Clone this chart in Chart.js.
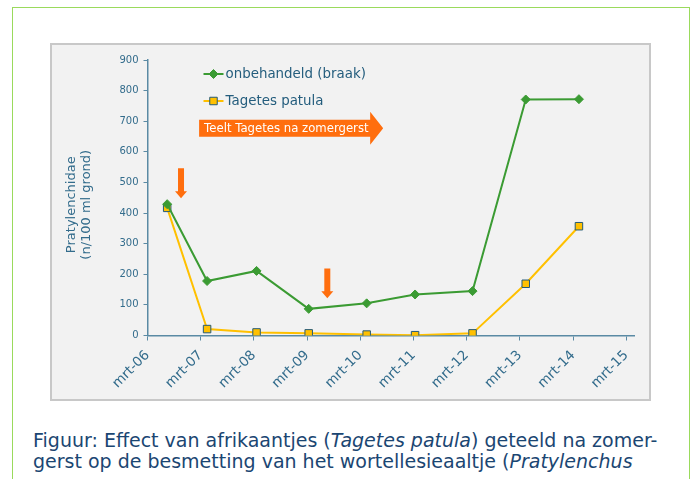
<!DOCTYPE html>
<html>
<head>
<meta charset="utf-8">
<script src="https://cdn.jsdelivr.net/npm/chart.js@4.4.1/dist/chart.umd.min.js"></script>
<style>
  html, body { margin: 0; padding: 0; background: #fff; }
  body { width: 694px; height: 479px; position: relative; overflow: hidden; font-family: "DejaVu Sans", sans-serif; }
  #frame { position: absolute; left: 12px; top: 7px; width: 676px; height: 520px; border: 1.5px solid #9ada5c; }
  #plotBox { position: absolute; left: 50px; top: 43px; width: 601px; height: 358px; box-sizing: border-box;
             background: #f2f2f2; border: 2px solid #c8c8c8; }
  #chart { position: absolute; left: 50px; top: 43px; }
  #caption { position: absolute; left: 33px; top: 430px; width: 655px; color: #1b4672;
             font-size: 19px; line-height: 20.5px; white-space: nowrap; }
</style>
</head>
<body>
<div id="frame"></div>
<div id="plotBox"></div>
<canvas id="chart" width="601" height="358"></canvas>
<div id="caption">Figuur: Effect van afrikaantjes (<i>Tagetes patula</i>) geteeld na zomer-<br>gerst op de besmetting van het wortellesieaaltje (<i>Pratylenchus</i></div>
<script>
// x = years after mrt-06
const xLabels = ["mrt-06", "mrt-07", "mrt-08", "mrt-09", "mrt-10", "mrt-11", "mrt-12", "mrt-13", "mrt-14", "mrt-15"];
const sampleTimes = [0.37, 1.12, 2.05, 3.03, 4.12, 5.03, 6.11, 7.11, 8.11];
const untreated = [429, 178, 211, 87, 105, 134, 145, 771, 772];
const tagetes = [417, 21, 10, 7, 3, 1, 7, 169, 357];

const seriesNames = ["onbehandeld (braak)", "Tagetes patula"];
const yTitle = ["Pratylenchidae", "(n/100 ml grond)"];

// annotations in data coordinates
const downArrows = [
  { x: 0.63, from: 546, to: 448 },
  { x: 3.38, from: 219, to: 122 }
];
const cropArrow = { from: 0.97, to: 4.43, y: 677, text: "Teelt Tagetes na zomergerst" };

const axisColor = "#5a8aa4";
const tickColor = "#336c8c";
const green = "#3b9b33";
const yellow = "#ffc000";
const orange = "#ff6e0e";

const toPoints = vals => vals.map((v, i) => ({ x: sampleTimes[i], y: v }));

const extras = {
  id: "extras",
  afterDraw(chart) {
    const ctx = chart.ctx;
    const xs = chart.scales.x, ys = chart.scales.y;
    const area = chart.chartArea;
    ctx.save();

    // y axis title
    ctx.fillStyle = tickColor;
    ctx.font = "13px 'DejaVu Sans'";
    ctx.textAlign = "center";
    ctx.textBaseline = "middle";
    const cy = (area.top + area.bottom) / 2 + 7;
    yTitle.forEach((t, i) => {
      ctx.save();
      ctx.translate(21.7 + i * 15, cy);
      ctx.rotate(-Math.PI / 2);
      ctx.fillText(t, 0, 0);
      ctx.restore();
    });

    // legend
    const lx = area.left + 56, ly = area.top + 14;
    chart.data.datasets.forEach((ds, i) => {
      const y = ly + i * 27;
      ctx.strokeStyle = ds.borderColor;
      ctx.lineWidth = 2;
      ctx.beginPath();
      ctx.moveTo(lx, y);
      ctx.lineTo(lx + 20, y);
      ctx.stroke();
      ctx.fillStyle = ds.pointBackgroundColor;
      ctx.strokeStyle = ds.pointBorderColor;
      ctx.lineWidth = ds.pointBorderWidth;
      Chart.helpers.drawPoint(ctx, {
        pointStyle: ds.pointStyle, radius: ds.pointRadius, borderWidth: ds.pointBorderWidth, rotation: 0
      }, lx + 10, y);
      ctx.fillStyle = "#245d7d";
      ctx.font = "13.4px 'DejaVu Sans'";
      ctx.textAlign = "left";
      ctx.textBaseline = "middle";
      ctx.fillText(ds.label, lx + 22, y + 1);
    });

    // down arrows
    ctx.fillStyle = orange;
    downArrows.forEach(a => {
      const x = xs.getPixelForValue(a.x);
      const y0 = ys.getPixelForValue(a.from), y1 = ys.getPixelForValue(a.to);
      ctx.beginPath();
      ctx.moveTo(x - 3, y0);
      ctx.lineTo(x + 3, y0);
      ctx.lineTo(x + 3, y1 - 7);
      ctx.lineTo(x + 6, y1 - 7);
      ctx.lineTo(x, y1);
      ctx.lineTo(x - 6, y1 - 7);
      ctx.lineTo(x - 3, y1 - 7);
      ctx.closePath();
      ctx.fill();
    });

    // crop arrow
    const ax0 = xs.getPixelForValue(cropArrow.from), ax1 = xs.getPixelForValue(cropArrow.to);
    const ay = ys.getPixelForValue(cropArrow.y);
    ctx.beginPath();
    ctx.moveTo(ax0, ay - 8.5);
    ctx.lineTo(ax1 - 13, ay - 8.5);
    ctx.lineTo(ax1 - 13, ay - 16.5);
    ctx.lineTo(ax1, ay);
    ctx.lineTo(ax1 - 13, ay + 16.5);
    ctx.lineTo(ax1 - 13, ay + 8.5);
    ctx.lineTo(ax0, ay + 8.5);
    ctx.closePath();
    ctx.fill();
    ctx.fillStyle = "#fff";
    ctx.font = "11.7px 'DejaVu Sans'";
    ctx.textAlign = "left";
    ctx.textBaseline = "middle";
    ctx.fillText(cropArrow.text, ax0 + 5, ay + 0.5);

    ctx.restore();
  }
};

new Chart(document.getElementById("chart"), {
  type: "line",
  data: {
    datasets: [
      {
        label: seriesNames[0],
        data: toPoints(untreated),
        borderColor: green,
        backgroundColor: green,
        borderWidth: 2,
        pointStyle: "rectRot",
        pointRadius: 4.5,
        pointBackgroundColor: green,
        pointBorderColor: green,
        pointBorderWidth: 1,
        tension: 0
      },
      {
        label: seriesNames[1],
        data: toPoints(tagetes),
        borderColor: yellow,
        backgroundColor: yellow,
        borderWidth: 2,
        pointStyle: "rect",
        pointRadius: 5.3,
        pointBackgroundColor: yellow,
        pointBorderColor: "#245a76",
        pointBorderWidth: 1,
        tension: 0
      }
    ]
  },
  options: {
    responsive: false,
    animation: false,
    layout: { padding: { top: 17, right: 17, left: 0, bottom: 0 } },
    plugins: { legend: { display: false }, tooltip: { enabled: false } },
    scales: {
      x: {
        type: "linear",
        min: 0,
        max: 9.145,
        grid: { drawOnChartArea: false, color: axisColor, tickLength: 5 },
        border: { color: axisColor, width: 1.5 },
        ticks: {
          stepSize: 1,
          includeBounds: false,
          color: tickColor,
          font: { family: "DejaVu Sans", size: 13.5 },
          minRotation: 45,
          maxRotation: 45,
          padding: 7,
          callback: v => xLabels[v]
        },
        afterFit: s => { s.height = 65.5; }
      },
      y: {
        min: 0,
        max: 900,
        grid: { drawOnChartArea: false, color: axisColor, tickLength: 4 },
        border: { color: axisColor, width: 1.5 },
        ticks: {
          stepSize: 100,
          color: tickColor,
          font: { family: "DejaVu Sans", size: 10 },
          padding: 5
        },
        afterFit: s => { s.width = 97.5; }
      }
    }
  },
  plugins: [extras]
});
</script>
</body>
</html>
